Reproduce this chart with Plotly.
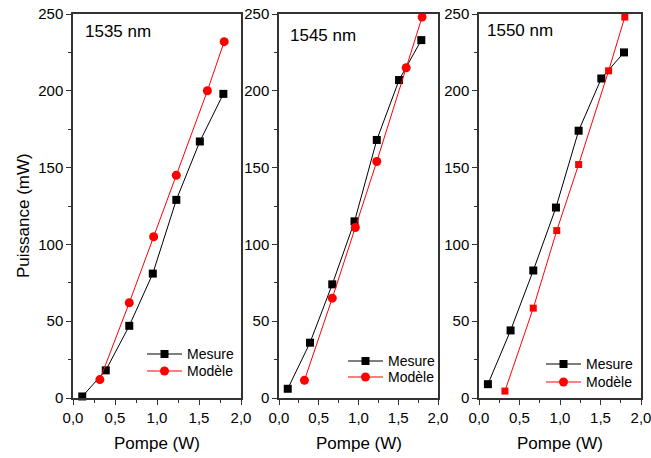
import plotly.graph_objects as go

# valeurs
pompe_mesure = [0.11, 0.39, 0.67, 0.95, 1.23, 1.51, 1.79]
pompe_modele = [0.32, 0.67, 0.96, 1.23, 1.60, 1.80]

mesure_1535 = [1, 18, 47, 81, 129, 167, 198]
modele_1535 = [12, 62, 105, 145, 200, 232]
mesure_1545 = [6, 36, 74, 115, 168, 207, 233]
modele_1545 = [11.5, 65, 111, 154, 215, 248]
mesure_1550 = [9, 44, 83, 124, 174, 208, 225]
modele_1550 = [4.5, 58.5, 109, 152, 213, 248]

labels = ['1535 nm', '1545 nm', '1550 nm']
legend_names = ['Mesure', 'Modèle']
x_ticks = [0, 0.5, 1.0, 1.5, 2.0]
y_ticks = [0, 50, 100, 150, 200, 250]

W, H = 651, 458
FONT = 'Liberation Sans, Arial, sans-serif'

# pixel positions (in the picture) of the plot areas
panels_px = [(73, 241), (279, 438), (479, 641)]
top_px, bottom_px = 14, 398
label_px = [(83, 32), (288, 35), (485, 31)]
# legend: left end of the sample line, first row y, second row y
legend_px = [(147, 354, 371), (348, 361, 377), (546, 364, 382)]


def px_x(v):
    return v / W


def px_y(v):
    return 1 - v / H


fig = go.Figure()

series = [(mesure_1535, modele_1535, 'circle', 9),
          (mesure_1545, modele_1545, 'circle', 9),
          (mesure_1550, modele_1550, 'square', 7)]

for i, (mes, mod, sym, sz) in enumerate(series):
    n = '' if i == 0 else str(i + 1)
    fig.add_trace(go.Scatter(x=pompe_mesure, y=mes, mode='lines+markers', name='Mesure',
                             line=dict(color='black', width=1),
                             marker=dict(symbol='square', size=8, color='black'),
                             xaxis='x' + n, yaxis='y' + n, cliponaxis=False, showlegend=False))
    fig.add_trace(go.Scatter(x=pompe_modele, y=mod, mode='lines+markers', name='Modèle',
                             line=dict(color='red', width=1),
                             marker=dict(symbol=sym, size=sz, color='red'),
                             xaxis='x' + n, yaxis='y' + n, cliponaxis=False, showlegend=False))

layout = dict(width=W, height=H, margin=dict(l=0, r=0, t=0, b=0),
              paper_bgcolor='white', plot_bgcolor='white', showlegend=False,
              separators=', ', font=dict(family=FONT, size=15, color='black'),
              template='none')

y_dom = [px_y(bottom_px), px_y(top_px)]

annotations = []
shapes = []
for i, (x0, x1) in enumerate(panels_px):
    n = '' if i == 0 else str(i + 1)
    common = dict(ticks='outside', ticklen=5, tickwidth=1.2, tickcolor='#333',
                  showline=True, linecolor='#333', linewidth=1.5, mirror=True,
                  showgrid=False, zeroline=False, automargin=False,
                  ticklabeloverflow='allow', tickfont=dict(size=15))
    layout['xaxis' + n] = dict(domain=[px_x(x0), px_x(x1)], range=[0, 2], anchor='y' + n,
                               tickvals=x_ticks, tickformat='.1f',
                               minor=dict(dtick=0.25, ticks='outside', ticklen=3, tickcolor='#333'),
                               **common)
    layout['yaxis' + n] = dict(domain=y_dom, range=[0, 250], anchor='x' + n,
                               tickvals=y_ticks,
                               minor=dict(dtick=25, ticks='outside', ticklen=3, tickcolor='#333'),
                               **common)

    tx, ty = label_px[i]
    annotations.append(dict(text=labels[i], x=px_x(tx), y=px_y(ty),
                            xref='paper', yref='paper', xanchor='left', yanchor='middle',
                            showarrow=False, font=dict(size=17)))
    annotations.append(dict(text='Pompe (W)', x=px_x((x0 + x1) / 2), y=px_y(443),
                            xref='paper', yref='paper', xanchor='center', yanchor='middle',
                            showarrow=False, font=dict(size=17)))

    # hand-drawn legend (the circle is used for Modèle in every panel)
    lx, r1, r2 = legend_px[i]
    for name, ry, col, kind, half in [(legend_names[0], r1, 'black', 'rect', 4),
                                      (legend_names[1], r2, 'red', 'circle', 4.5)]:
        shapes.append(dict(type='line', xref='paper', yref='paper',
                           x0=px_x(lx), x1=px_x(lx + 35), y0=px_y(ry), y1=px_y(ry),
                           line=dict(color=col, width=1)))
        cx = lx + 17.5
        shapes.append(dict(type=kind, xref='paper', yref='paper',
                           x0=px_x(cx - half), x1=px_x(cx + half),
                           y0=px_y(ry + half), y1=px_y(ry - half),
                           fillcolor=col, line=dict(color=col, width=0)))
        annotations.append(dict(text=name, x=px_x(lx + 38), y=px_y(ry),
                                xref='paper', yref='paper', xanchor='left', yanchor='middle',
                                showarrow=False, font=dict(size=14)))

annotations.append(dict(text='Puissance (mW)', x=px_x(23), y=px_y(216), textangle=-90,
                        xref='paper', yref='paper', xanchor='center', yanchor='middle',
                        showarrow=False, font=dict(size=17)))
layout['annotations'] = annotations
layout['shapes'] = shapes

fig.update_layout(**layout)
# drop the default 8px page margin so the figure sits at the window's corner
fig.write_html('out.html', config={'displayModeBar': False},
               post_script="document.body.style.margin='0';")
